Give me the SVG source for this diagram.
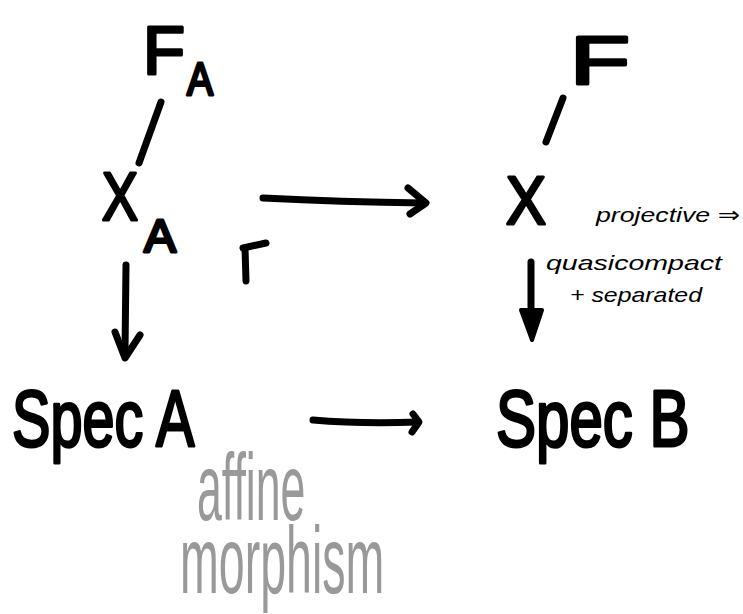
<svg xmlns="http://www.w3.org/2000/svg" width="743" height="614" viewBox="0 0 743 614">
<style>
.ink{fill:#000;font-family:"Liberation Sans","DejaVu Sans",sans-serif;stroke:#000;stroke-linejoin:round}
.big{font-size:80px;stroke-width:3}
.sym{font-size:68px;stroke-width:3}
.sub{font-size:46px;stroke-width:3}
.note{font-family:"Liberation Sans","DejaVu Sans",sans-serif;font-style:italic;fill:#000;font-size:21px}
.gray{fill:#999;font-family:"Liberation Sans","DejaVu Sans",sans-serif;font-size:95px}
.line{stroke:#000;stroke-width:7;stroke-linecap:round;fill:none;stroke-linejoin:round}
</style>
<rect width="743" height="614" fill="#fff"/>
<g id="node-FA">
<text class="ink sym" x="143" y="74" textLength="42" lengthAdjust="spacingAndGlyphs">F</text>
<text class="ink sub" x="187" y="95" textLength="26" lengthAdjust="spacingAndGlyphs">A</text>
</g>
<g id="node-XA">
<text class="ink sym" x="102" y="220" textLength="36" lengthAdjust="spacingAndGlyphs">X</text>
<text class="ink sub" x="144" y="252" textLength="32" lengthAdjust="spacingAndGlyphs">A</text>
</g>
<g id="node-F">
<text class="ink sym" x="570" y="84" textLength="60" lengthAdjust="spacingAndGlyphs">F</text>
</g>
<g id="node-X">
<text class="ink sym" x="506" y="224" textLength="40" lengthAdjust="spacingAndGlyphs">X</text>
</g>
<g id="node-SpecA">
<text class="ink big" transform="matrix(0.72 0 0 1 12 446)" x="0" y="0">Spec A</text>
</g>
<g id="node-SpecB">
<text class="ink big" transform="matrix(0.75 0 0 1 496 446)" x="0" y="0">Spec B</text>
</g>
<g id="labels">
<text class="note" x="596" y="222" textLength="144" lengthAdjust="spacingAndGlyphs">projective ⇒</text>
<text class="note" x="546" y="270" textLength="176" lengthAdjust="spacingAndGlyphs">quasicompact</text>
<text class="note" x="570" y="302" textLength="132" lengthAdjust="spacingAndGlyphs">+ separated</text>
<text class="gray" transform="matrix(0.47 0 0 1 197 520)" x="0" y="0">affine</text>
<text class="gray" transform="matrix(0.49 0 0 1 180 593)" x="0" y="0">morphism</text>
</g>
<g id="connectors">
<path class="line" d="M161 102 L139 163"/>
<path class="line" d="M563 98 L546 142"/>
<path class="line" d="M263 198 Q340 202 424 203"/>
<path class="line" d="M408 188 L426 203 L410 214"/>
<path class="line" d="M126 265 L125 352"/>
<path class="line" d="M115 332 L125 358 L140 335"/>
<path class="line" d="M531 262 L531 310"/>
<path d="M521 310 L542 310 L532 340 Z" fill="#000" stroke="#000" stroke-width="4" stroke-linejoin="round"/>
<path class="line" d="M313 420 Q360 424 418 422"/>
<path class="line" d="M413 414 L419 422 L412 432"/>
<path class="line" d="M243 248 L266 243 M245 248 L246 281"/>
</g>
</svg>
